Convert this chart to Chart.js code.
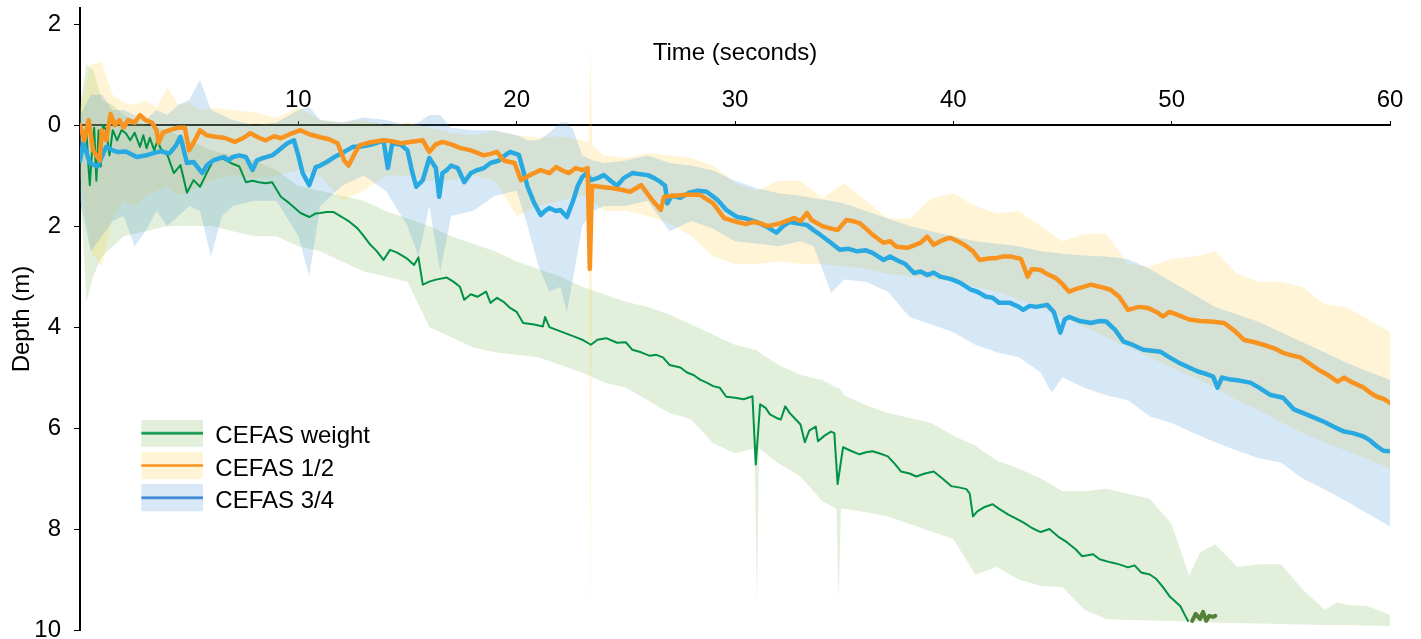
<!DOCTYPE html>
<html><head><meta charset="utf-8">
<script src="https://cdn.jsdelivr.net/npm/chart.js@4.4.1/dist/chart.umd.min.js"></script>
<style>html,body{margin:0;padding:0;background:#fff}#wrap{width:1421px;height:639px;position:relative}</style>
</head><body><div id="wrap"><canvas id="c"></canvas></div>
<script>
const xTicks = [10, 20, 30, 40, 50, 60];
const yTicks = [-2, 0, 2, 4, 6, 8, 10];
const seriesNames = ['CEFAS weight', 'CEFAS 1/2', 'CEFAS 3/4'];

// mean depth lines: [time (s), depth (m)]
const weightLine = [[0,0.1],[0.15,0.25],[0.3,0.16],[0.4,0.9],[0.45,1.19],[0.55,0.5],[0.65,0.05],[0.75,1.1],[0.85,0.1],[0.95,0.82],[1.05,0.0],[1.2,0.1],[1.35,0.6],[1.5,0.1],[1.7,0.3],[1.9,0.1],[2.1,0.16],[2.3,0.3],[2.5,0.15],[2.75,0.43],[2.9,0.2],[3.05,0.46],[3.2,0.25],[3.4,0.5],[3.55,0.3],[3.7,0.47],[4.0,0.59],[4.3,0.95],[4.6,0.79],[4.9,1.34],[5.2,1.09],[5.5,1.22],[5.8,0.95],[6.1,0.7],[6.4,0.63],[6.9,0.75],[7.3,0.82],[7.6,1.13],[7.9,1.1],[8.2,1.13],[8.5,1.15],[8.8,1.13],[9.2,1.42],[9.6,1.55],[10.1,1.74],[10.5,1.82],[10.8,1.75],[11.0,1.74],[11.3,1.72],[11.6,1.72],[12.0,1.82],[12.3,1.9],[12.7,2.04],[13.0,2.2],[13.3,2.37],[13.6,2.5],[13.9,2.67],[14.2,2.47],[14.5,2.52],[14.7,2.57],[15.0,2.65],[15.3,2.77],[15.5,2.62],[15.7,3.16],[16.0,3.1],[16.3,3.06],[16.8,3.02],[17.1,3.1],[17.4,3.2],[17.6,3.46],[17.9,3.35],[18.2,3.4],[18.6,3.3],[18.8,3.52],[19.1,3.42],[19.4,3.5],[19.7,3.62],[20.0,3.7],[20.3,3.92],[20.8,3.95],[21.2,3.99],[21.3,3.8],[21.5,4.0],[21.8,4.05],[22.1,4.1],[22.4,4.15],[22.7,4.2],[23.0,4.25],[23.4,4.35],[23.7,4.25],[24.1,4.22],[24.6,4.31],[25.0,4.3],[25.3,4.45],[25.7,4.5],[26.1,4.57],[26.4,4.55],[26.7,4.6],[27.0,4.75],[27.5,4.8],[27.8,4.9],[28.1,4.95],[28.4,5.04],[28.7,5.1],[29.0,5.17],[29.3,5.2],[29.6,5.38],[30.0,5.4],[30.4,5.43],[30.8,5.37],[30.95,6.72],[31.15,5.53],[31.4,5.6],[31.6,5.73],[31.9,5.8],[32.1,5.83],[32.3,5.57],[32.5,5.7],[32.7,5.79],[33.0,5.93],[33.2,6.28],[33.4,6.05],[33.7,5.97],[33.8,6.26],[34.1,6.15],[34.4,6.07],[34.55,6.1],[34.7,7.11],[34.95,6.38],[35.3,6.45],[35.7,6.52],[36.0,6.48],[36.3,6.46],[36.6,6.5],[37.0,6.56],[37.3,6.7],[37.6,6.86],[38.0,6.9],[38.3,6.96],[38.7,6.9],[39.1,6.86],[39.5,7.0],[39.9,7.15],[40.3,7.18],[40.6,7.21],[40.75,7.3],[40.9,7.75],[41.1,7.65],[41.4,7.57],[41.8,7.51],[42.1,7.6],[42.5,7.71],[42.9,7.8],[43.2,7.87],[43.6,7.98],[44.0,8.06],[44.4,8.0],[44.8,8.15],[45.2,8.26],[45.6,8.4],[45.9,8.54],[46.4,8.5],[46.7,8.6],[47.2,8.66],[47.6,8.7],[48.0,8.76],[48.3,8.72],[48.6,8.86],[49.0,8.9],[49.3,8.99],[49.6,9.15],[49.9,9.33],[50.2,9.45],[50.4,9.53],[50.6,9.7],[50.75,9.82]];
const weightTail = [[50.94,9.82],[51.1,9.68],[51.3,9.78],[51.44,9.64],[51.58,9.82],[51.72,9.72],[51.9,9.74],[52.0,9.72]];
const halfLine = [[0,0.0],[0.2,0.3],[0.4,-0.1],[0.6,0.5],[0.9,0.7],[1.0,0.1],[1.2,0.3],[1.4,-0.22],[1.6,0.0],[1.8,-0.1],[2.0,0.05],[2.2,-0.1],[2.5,-0.05],[2.75,-0.2],[3.0,-0.1],[3.3,-0.05],[3.5,0.1],[3.6,0.35],[3.8,0.15],[4.1,0.1],[4.5,0.05],[4.8,0.05],[5.0,0.5],[5.2,0.35],[5.5,0.1],[5.8,0.2],[6.2,0.23],[6.6,0.25],[7.1,0.33],[7.5,0.25],[7.8,0.16],[8.2,0.25],[8.5,0.3],[8.9,0.22],[9.2,0.26],[9.6,0.18],[10.1,0.1],[10.5,0.18],[11.0,0.24],[11.4,0.28],[11.8,0.36],[12.1,0.7],[12.3,0.8],[12.6,0.55],[12.8,0.4],[13.2,0.35],[13.9,0.3],[14.3,0.32],[14.7,0.36],[15.2,0.33],[15.7,0.3],[16.0,0.53],[16.3,0.38],[16.6,0.33],[17.0,0.38],[17.4,0.45],[17.9,0.5],[18.5,0.6],[18.8,0.57],[19.1,0.53],[19.4,0.7],[19.9,0.75],[20.2,1.09],[20.6,0.99],[21.1,0.89],[21.5,0.95],[21.8,0.83],[22.1,0.9],[22.4,0.95],[22.7,0.85],[23.0,0.89],[23.25,0.85],[23.35,2.85],[23.45,1.2],[23.8,1.22],[24.4,1.25],[24.8,1.28],[25.2,1.32],[25.7,1.19],[26.2,1.48],[26.6,1.68],[26.75,1.42],[27.2,1.4],[27.8,1.38],[28.4,1.38],[29.0,1.55],[29.5,1.84],[30.1,1.92],[30.5,1.96],[30.8,1.92],[31.2,1.95],[31.5,2.0],[32.1,1.94],[32.7,1.84],[33.0,1.9],[33.3,1.74],[33.5,1.88],[34.0,2.0],[34.4,2.05],[34.7,2.08],[35.1,1.88],[35.4,1.9],[35.7,1.94],[36.0,2.05],[36.3,2.17],[36.8,2.33],[37.1,2.3],[37.4,2.41],[37.9,2.43],[38.2,2.38],[38.5,2.33],[38.8,2.21],[39.1,2.37],[39.5,2.28],[39.85,2.23],[40.2,2.3],[40.5,2.37],[40.9,2.5],[41.2,2.67],[41.6,2.64],[42.0,2.63],[42.3,2.6],[42.6,2.6],[43.1,2.65],[43.4,3.0],[43.6,2.85],[44.0,2.87],[44.3,2.95],[44.7,3.03],[45.0,3.15],[45.3,3.3],[45.6,3.25],[46.0,3.2],[46.3,3.16],[46.7,3.2],[47.2,3.26],[47.6,3.4],[48.0,3.66],[48.5,3.6],[48.9,3.62],[49.3,3.7],[49.6,3.79],[49.9,3.7],[50.4,3.78],[50.8,3.85],[51.3,3.88],[51.8,3.89],[52.4,3.92],[52.9,4.08],[53.3,4.25],[53.8,4.3],[54.2,4.35],[54.7,4.42],[55.1,4.51],[55.5,4.56],[55.9,4.6],[56.3,4.72],[56.7,4.84],[57.2,4.96],[57.6,5.08],[57.9,5.0],[58.2,5.08],[58.5,5.14],[58.8,5.2],[59.1,5.3],[59.4,5.38],[59.7,5.42],[60,5.5]];
const threeQuarterLine = [[0,0.7],[0.15,0.35],[0.45,0.75],[0.8,0.82],[1.0,0.63],[1.2,0.43],[1.5,0.5],[1.7,0.53],[2.1,0.52],[2.6,0.63],[3.1,0.59],[3.4,0.55],[3.7,0.52],[4.1,0.56],[4.4,0.4],[4.6,0.23],[4.9,0.75],[5.2,0.73],[5.6,0.95],[5.8,0.8],[6.1,0.7],[6.6,0.63],[6.8,0.7],[7.0,0.63],[7.3,0.6],[7.6,0.63],[7.9,0.89],[8.1,0.7],[8.4,0.65],[8.8,0.6],[9.1,0.5],[9.5,0.36],[9.8,0.3],[10.0,0.6],[10.2,0.95],[10.5,1.19],[10.8,0.83],[11.0,0.8],[11.3,0.73],[11.7,0.62],[12.1,0.53],[12.5,0.43],[12.8,0.43],[13.3,0.39],[13.6,0.35],[13.9,0.3],[14.1,0.85],[14.3,0.36],[14.7,0.39],[15.0,0.5],[15.2,0.9],[15.4,1.22],[15.7,1.09],[16.0,0.65],[16.3,0.85],[16.45,1.42],[16.6,0.95],[16.8,0.89],[17.0,0.8],[17.3,0.85],[17.6,1.13],[17.9,0.95],[18.2,0.89],[18.5,0.85],[18.8,0.75],[19.2,0.7],[19.4,0.62],[19.7,0.53],[20.1,0.59],[20.3,0.9],[20.5,1.22],[20.8,1.54],[21.1,1.78],[21.3,1.7],[21.5,1.64],[21.8,1.7],[22.0,1.68],[22.3,1.82],[22.6,1.48],[22.8,1.2],[23.0,1.03],[23.2,0.95],[23.4,1.09],[23.7,1.05],[24.0,0.99],[24.3,1.1],[24.6,1.2],[24.9,1.05],[25.3,0.95],[25.6,0.97],[26.0,0.99],[26.3,1.05],[26.6,1.13],[26.8,1.2],[26.9,1.55],[27.1,1.4],[27.5,1.44],[27.9,1.34],[28.3,1.3],[28.7,1.32],[29.2,1.48],[29.6,1.68],[30.1,1.82],[30.5,1.85],[31.0,1.92],[31.4,2.0],[31.9,2.13],[32.2,2.0],[32.5,1.92],[32.9,1.95],[33.3,1.98],[33.6,2.08],[33.9,2.17],[34.3,2.3],[34.8,2.47],[35.2,2.45],[35.6,2.5],[36.0,2.48],[36.3,2.53],[36.8,2.67],[37.1,2.6],[37.4,2.67],[37.8,2.75],[38.2,2.93],[38.5,2.9],[38.8,2.97],[39.1,2.92],[39.4,3.0],[39.9,3.05],[40.3,3.12],[40.8,3.26],[41.1,3.3],[41.5,3.4],[41.8,3.42],[42.1,3.52],[42.6,3.52],[43.0,3.6],[43.2,3.66],[43.5,3.58],[43.8,3.6],[44.3,3.56],[44.6,3.7],[44.9,4.11],[45.1,3.85],[45.3,3.8],[45.8,3.88],[46.3,3.92],[46.7,3.88],[47.0,3.89],[47.4,4.05],[47.8,4.29],[48.2,4.35],[48.7,4.45],[49.1,4.47],[49.5,4.49],[49.9,4.6],[50.3,4.7],[50.7,4.78],[51.2,4.88],[51.6,4.93],[51.9,4.98],[52.1,5.2],[52.3,5.0],[52.7,5.04],[53.1,5.06],[53.6,5.1],[54.0,5.2],[54.5,5.34],[55.1,5.4],[55.6,5.63],[56.0,5.7],[56.5,5.79],[57.0,5.88],[57.4,5.97],[57.9,6.07],[58.3,6.1],[58.8,6.17],[59.1,6.25],[59.4,6.36],[59.7,6.45],[60,6.46]];

// spread bands: times, shallow edge, deep edge
const weightBandT = [0,0.3,0.6,1,1.5,2,3,4,5,6,7,8,9,10,11,12,13,14,15,16,17,18,19,20,21,22,23,24,25,26,27,28,29,30,30.9,31.0,31.1,32,33,34,34.65,34.75,34.85,35,36,37,38,39,40,41,42,43,44,45,46,47,48,49,50,50.8,51.3,52,53,54,55,56,57,57.6,58,59,60];
const weightBandTop = [-0.4,-1.2,-1.1,-0.5,-0.4,-0.2,0.0,0.1,0.3,0.5,0.6,0.7,0.9,1.2,1.3,1.4,1.5,1.7,1.85,2.0,2.2,2.35,2.5,2.7,2.85,3.0,3.2,3.35,3.5,3.6,3.75,3.95,4.15,4.35,4.45,4.45,4.5,4.75,4.95,5.05,5.2,5.2,5.25,5.35,5.55,5.7,5.8,5.9,6.15,6.35,6.65,6.8,7.0,7.25,7.25,7.2,7.3,7.4,7.9,8.93,8.46,8.3,8.75,8.7,8.7,9.2,9.6,9.45,9.5,9.53,9.7];
const weightBandBottom = [1.2,3.5,3.0,2.6,2.4,2.2,2.1,2.0,2.0,2.0,2.1,2.2,2.2,2.4,2.5,2.7,2.9,3.0,3.1,4.0,4.2,4.4,4.5,4.55,4.6,4.75,4.9,5.1,5.2,5.45,5.7,5.83,6.3,6.5,6.4,9.5,6.4,6.7,6.96,7.45,7.6,9.4,7.6,7.6,7.67,7.75,7.9,8.05,8.2,8.9,8.75,9.0,9.13,9.15,9.6,9.78,9.8,9.81,9.82,9.83,9.84,9.85,9.86,9.87,9.88,9.89,9.9,9.9,9.9,9.91,9.92];
const halfBandT = [0,0.5,1,1.5,2,2.5,3,3.5,4,4.5,5,5.5,6,7,8,9,10,11,12,13,14,15,16,17,18,19,20,21,22,23,23.3,23.38,23.46,24,25,26,27,28,29,30,31,32,33,34,35,36,37,38,39,40,41,42,43,44,45,46,47,48,49,50,51,52,53,54,55,56,57,58,59,60];
const halfBandTop = [-0.3,-1.2,-1.25,-0.6,-0.45,-0.4,-0.5,-0.35,-0.75,-0.4,-0.45,-0.3,-0.35,-0.3,-0.25,-0.15,-0.35,-0.1,-0.05,-0.1,0.0,-0.05,0.05,0.15,0.2,0.12,0.2,0.25,0.22,0.3,0.35,-1.6,0.4,0.6,0.65,0.55,0.6,0.65,0.8,1.15,1.3,1.1,1.1,1.45,1.15,1.5,1.85,1.85,1.45,1.35,1.6,1.75,1.7,2.0,2.3,2.15,2.15,2.75,2.8,2.65,2.6,2.5,2.95,3.1,3.1,3.2,3.55,3.6,3.85,4.1];
const halfBandBottom = [1.0,2.5,2.8,1.8,1.5,1.6,1.4,1.3,1.2,1.4,1.3,1.2,1.1,1.0,1.05,1.0,0.9,1.0,1.5,1.3,1.0,1.0,1.1,1.1,1.0,1.1,1.8,1.6,1.5,1.4,1.4,10.0,1.5,1.7,1.7,1.8,1.95,2.2,2.6,2.75,2.75,2.7,2.75,2.75,2.8,2.85,2.95,3.0,3.05,3.1,3.2,3.3,3.45,3.6,3.8,4.0,4.2,4.4,4.6,4.8,5.0,5.2,5.45,5.65,5.88,6.1,6.28,6.45,6.62,6.8];
const threeQuarterBandT = [0,0.5,1,1.5,2,2.5,3,3.5,4,4.5,5,5.5,6,6.5,7,8,9,10,10.5,11,12,13,14,15,15.5,16,16.5,17,18,19,20,20.5,21,21.5,22,22.3,22.6,23,23.5,24,25,26,27,28,29,30,31,32,33,33.6,34.4,35,36,37,38,39,40,41,42,43,44,44.5,45,46,47,48,49,50,51,52,53,54,55,56,57,58,59,60];
const threeQuarterBandTop = [-0.2,-0.6,-0.6,-0.3,-0.3,-0.2,-0.1,-0.3,-0.2,-0.4,-0.5,-0.9,-0.3,-0.2,-0.1,0.0,-0.05,-0.3,-0.36,-0.1,-0.05,-0.15,-0.1,0.0,-0.05,-0.2,-0.2,0.05,0.1,0.1,0.2,0.3,0.3,0.15,-0.05,-0.05,0.1,0.6,0.7,0.75,0.7,0.6,0.75,0.8,0.9,1.1,1.25,1.35,1.4,1.45,1.5,1.55,1.7,1.85,2.0,2.1,2.2,2.3,2.35,2.4,2.5,2.52,2.55,2.58,2.6,2.65,2.85,3.1,3.35,3.6,3.75,3.9,4.1,4.3,4.5,4.7,4.88,5.05];
const threeQuarterBandBottom = [1.5,2.5,2.2,1.9,1.8,2.4,2.1,1.7,2.0,1.8,1.6,1.7,2.6,1.8,1.6,1.5,1.5,2.2,3.0,1.6,1.2,1.0,1.3,2.0,2.6,1.6,2.9,1.8,1.7,1.4,1.3,2.0,2.8,3.3,3.2,3.7,3.0,2.0,1.7,1.6,1.6,1.5,2.1,1.9,2.05,2.3,2.35,2.4,2.3,2.4,3.32,3.06,3.1,3.3,3.8,3.95,4.1,4.35,4.5,4.6,4.9,5.3,5.0,5.2,5.35,5.45,5.77,5.9,6.1,6.28,6.45,6.6,6.68,7.0,7.21,7.45,7.7,7.95];

const pairs = arr => arr.map(([t, d]) => ({x: t, y: d}));
const zipT = (ts, ds) => ts.map((t, i) => ({x: t, y: ds[i]}));

const LINE = ['#009245', '#F7931E', '#29A9E1'];
const BAND = ['rgba(112,173,71,0.2)', 'rgba(255,204,51,0.2)', 'rgba(70,150,215,0.22)'];
const SWATCH_FILL = ['#E2EFDA', '#FFF5D6', '#D9E8F6'];
const SWATCH_LINE = ['#009245', '#F7931E', '#2E7FD0'];

function swatch(fill, stroke) {
  const c = document.createElement('canvas');
  c.width = 115; c.height = 34;
  const g = c.getContext('2d');
  g.fillStyle = fill; g.fillRect(53, 0, 62, 27);
  g.strokeStyle = stroke; g.lineWidth = 2.5;
  g.beginPath(); g.moveTo(53, 13.5); g.lineTo(115, 13.5); g.stroke();
  return c;
}
const swatches = seriesNames.map((n, i) => swatch(SWATCH_FILL[i], SWATCH_LINE[i]));

const lineDs = (label, data, color, width, order) => ({
  label, data, borderColor: color, borderWidth: width, pointRadius: 0, fill: false,
  tension: 0, order, borderJoinStyle: 'round', borderCapStyle: 'round'
});
const bandDs = (label, data, color, fill, order) => ({
  label, data, borderColor: 'transparent', borderWidth: 0, pointRadius: 0,
  backgroundColor: color, fill, tension: 0, order
});

const datasets = [
  lineDs(seriesNames[0], pairs(weightLine), LINE[0], 2, 3),
  lineDs(seriesNames[1], pairs(halfLine), LINE[1], 4.5, 1),
  lineDs(seriesNames[2], pairs(threeQuarterLine), LINE[2], 4.5, 2),
  lineDs('tail', pairs(weightTail), '#55803A', 4, 0),
  bandDs('weight spread', zipT(weightBandT, weightBandTop), BAND[0], '+1', 20),
  bandDs('weight spread low', zipT(weightBandT, weightBandBottom), BAND[0], false, 21),
  bandDs('1/2 spread', zipT(halfBandT, halfBandTop), BAND[1], '+1', 18),
  bandDs('1/2 spread low', zipT(halfBandT, halfBandBottom), BAND[1], false, 19),
  bandDs('3/4 spread', zipT(threeQuarterBandT, threeQuarterBandTop), BAND[2], '+1', 16),
  bandDs('3/4 spread low', zipT(threeQuarterBandT, threeQuarterBandBottom), BAND[2], false, 17)
];

Chart.defaults.font.family = '"Liberation Sans", Arial, sans-serif';
Chart.defaults.font.size = 24;
Chart.defaults.color = '#000';

new Chart(document.getElementById('c'), {
  type: 'line',
  data: {datasets},
  options: {
    responsive: true, maintainAspectRatio: false, animation: false,
    layout: {padding: {left: 0, top: 8, right: 31, bottom: 9}},
    plugins: {
      tooltip: {enabled: false},
      legend: {
        position: 'chartArea', align: 'start',
        title: {display: true, text: ' ', font: {size: 12}, padding: {top: 402, bottom: 0}},
        labels: {
          usePointStyle: true, pointStyleWidth: 115, padding: 8.3,
          font: {size: 24}, color: '#000',
          generateLabels: () => seriesNames.map((n, i) => ({
            text: n, pointStyle: swatches[i], fillStyle: SWATCH_FILL[i], strokeStyle: SWATCH_LINE[i],
            lineWidth: 0, hidden: false, datasetIndex: i, fontColor: '#000'
          }))
        }
      }
    },
    scales: {
      x: {
        type: 'linear', min: 0, max: 60, position: {y: 0},
        afterBuildTicks: s => { s.ticks = xTicks.map(v => ({value: v})); },
        afterFit: s => { s.paddingLeft = 0; s.paddingRight = 0; },
        border: {display: true, color: '#000', width: 2},
        grid: {display: true, drawOnChartArea: false, drawTicks: true, tickLength: -5, tickColor: '#000', tickWidth: 1},
        ticks: {padding: -34, color: '#000', font: {size: 24}, maxRotation: 0, autoSkip: false},
        title: {display: true, text: 'Time (seconds)', color: '#000', font: {size: 24}, padding: {top: -42, bottom: 100}}
      },
      y: {
        type: 'linear', reverse: true, min: -2.32, max: 10, position: 'left',
        afterBuildTicks: s => { s.ticks = yTicks.map(v => ({value: v})); },
        afterFit: s => { s.width = 80; s.paddingTop = 0; s.paddingBottom = 0; },
        border: {display: true, color: '#000', width: 2},
        grid: {display: true, drawOnChartArea: false, tickLength: 6, tickColor: '#000', tickWidth: 1},
        ticks: {padding: 13, color: '#000', font: {size: 24}, callback: v => String(Math.abs(v))},
        title: {display: true, text: 'Depth (m)', color: '#000', font: {size: 24}, padding: {top: 8, bottom: 0}}
      }
    }
  }
});
</script></body></html>
